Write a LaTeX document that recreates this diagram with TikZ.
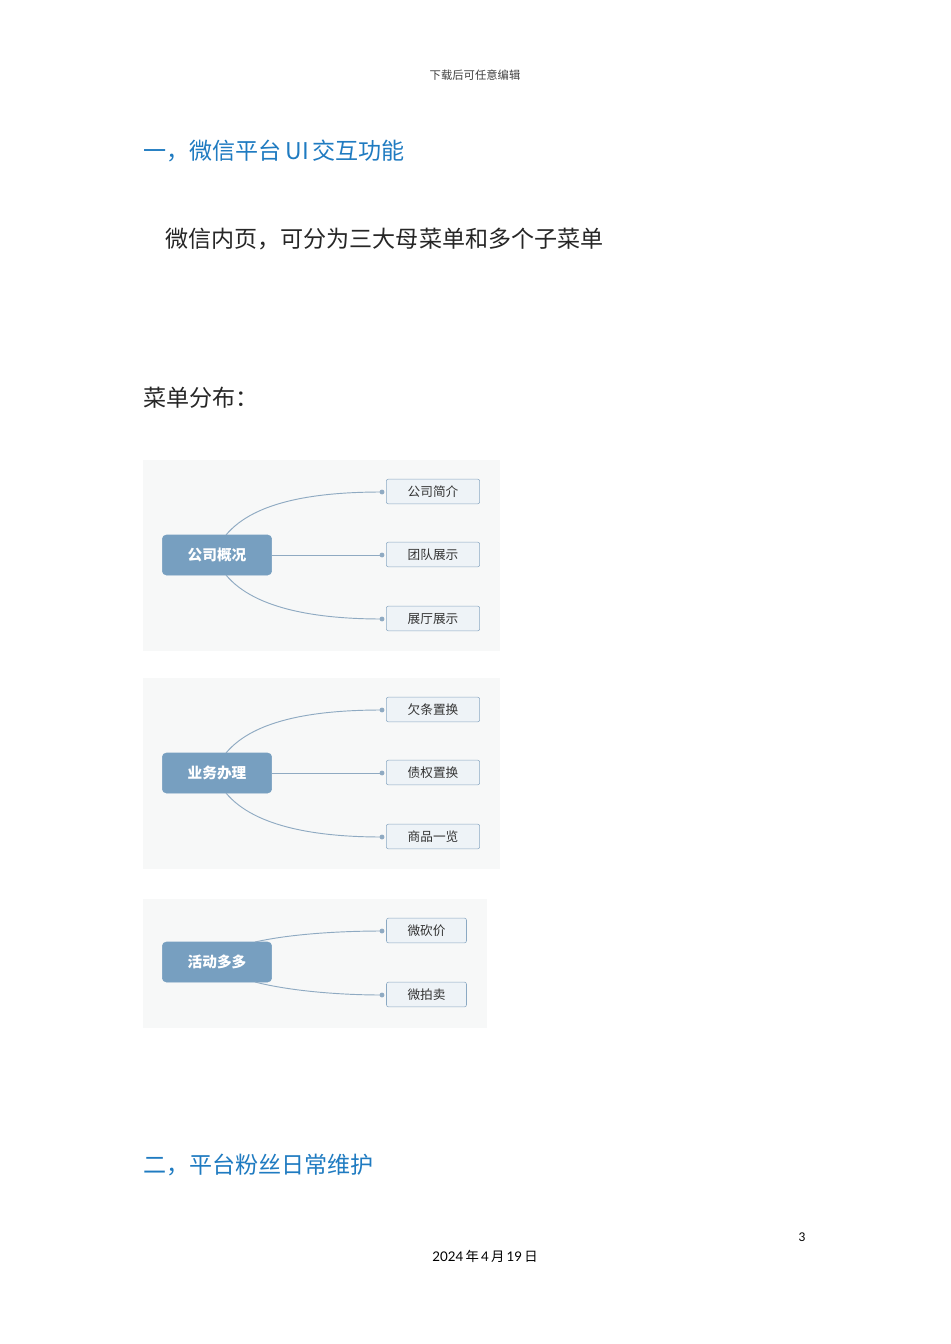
\documentclass[tikz,border=0pt]{standalone}
\usepackage{fontspec}
\setmainfont{Lato}
\newfontfamily\cjk{Noto Sans CJK SC}
\definecolor{hblue}{HTML}{1F7BC1}
\definecolor{rootc}{HTML}{779FC0}
\definecolor{kidf}{HTML}{EEF3F7}
\definecolor{kidd}{HTML}{8BA9C3}
\definecolor{bgc}{HTML}{F7F8F8}
\definecolor{linec}{HTML}{8FAAC2}
\begin{document}
\begin{tikzpicture}[x=0.75pt,y=-0.75pt,
 rootbox/.style={draw=rootc,fill=rootc,rounded corners=3pt,minimum width=82pt,minimum height=30pt,text=white,font=\cjk\bfseries\fontsize{11}{12}\selectfont},
 kid/.style={draw=kidd,fill=kidf,rounded corners=1.5pt,minimum width=70pt,minimum height=18.5pt,font=\cjk\fontsize{9.5}{10}\selectfont,text=black!80},
 conn/.style={draw=linec,line width=0.7pt},
 dot/.style={circle,fill=linec,inner sep=1.3pt}]
\useasboundingbox (0,0) rectangle (950,1344);
\fill[white] (0,0) rectangle (950,1344);
\node[text=black!75] (hdr) at (475,75) {\cjk\fontsize{8.5}{10}\selectfont 下载后可任意编辑};
\node[anchor=west,text=hblue,inner sep=0] (h1) at (143,151) {\cjk\fontsize{17.3}{20}\selectfont 一，微信平台\,UI\,交互功能};
\node[anchor=west,inner sep=0,text=black!85] (p1) at (165,239) {\cjk\fontsize{17.3}{20}\selectfont 微信内页，可分为三大母菜单和多个子菜单};
\node[anchor=west,inner sep=0,text=black!85] (p2) at (143,398) {\cjk\fontsize{17.3}{20}\selectfont 菜单分布：};
% diagram 1
\fill[bgc] (143,460) rectangle (500,651);
\node[rootbox] (r1) at (217,555) {公司概况};
\node[kid] (a1) at (433,491.5) {公司简介};
\node[kid] (a2) at (433,554.5) {团队展示};
\node[kid] (a3) at (433,618.5) {展厅展示};
\coordinate (c1) at (382,492); \coordinate (c2) at (382,555); \coordinate (c3) at (382,619);
\draw[conn] (226,535) .. controls (255,500) and (320,492) .. (c1);
\draw[conn] (r1.east) -- (c2);
\draw[conn] (226,575) .. controls (255,610) and (320,619) .. (c3);
\foreach \c in {c1,c2,c3} \node[dot] at (\c) {};
% diagram 2
\fill[bgc] (143,678) rectangle (500,869);
\node[rootbox] (r2) at (217,773) {业务办理};
\node[kid] (b1) at (433,709.5) {欠条置换};
\node[kid] (b2) at (433,772.5) {债权置换};
\node[kid] (b3) at (433,836.5) {商品一览};
\coordinate (d1) at (382,710); \coordinate (d2) at (382,773); \coordinate (d3) at (382,837);
\draw[conn] (226,753) .. controls (255,718) and (320,710) .. (d1);
\draw[conn] (r2.east) -- (d2);
\draw[conn] (226,793) .. controls (255,828) and (320,837) .. (d3);
\foreach \c in {d1,d2,d3} \node[dot] at (\c) {};
% diagram 3
\fill[bgc] (143,899) rectangle (487,1028);
\node[rootbox] (r3) at (217,962) {活动多多};
\node[kid,minimum width=60pt] (e1) at (426.5,930.5) {微砍价};
\node[kid,minimum width=60pt] (e2) at (426.5,994.5) {微拍卖};
\coordinate (f1) at (382,931); \coordinate (f2) at (382,995);
\draw[conn] (255,942) .. controls (290,934) and (340,931) .. (f1);
\draw[conn] (255,982) .. controls (290,991) and (340,995) .. (f2);
\foreach \c in {f1,f2} \node[dot] at (\c) {};
\node[anchor=west,text=hblue,inner sep=0] (h2) at (143,1165) {\cjk\fontsize{17.3}{20}\selectfont 二，平台粉丝日常维护};
\node (pg) at (802,1237) {\fontsize{9}{10}\selectfont 3};
\node (dt) at (485,1256) {\fontsize{10}{12}\selectfont 2024\,{\cjk 年}\,4\,{\cjk 月}\,19\,{\cjk 日}};
\end{tikzpicture}
\end{document}
